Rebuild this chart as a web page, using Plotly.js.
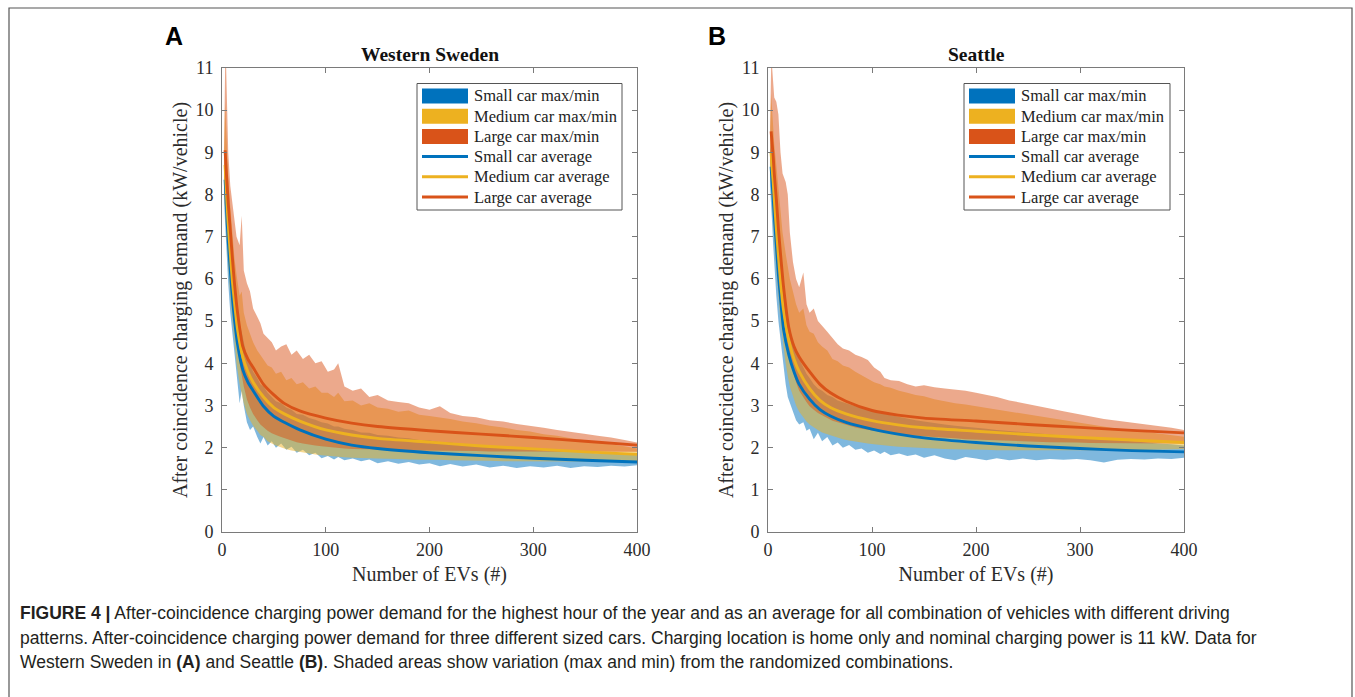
<!DOCTYPE html>
<html><head><meta charset="utf-8">
<script src="https://cdn.plot.ly/plotly-3.0.1.min.js"></script>
<style>html,body{margin:0;padding:0;background:#fff;}#chart{width:1355px;height:697px;}</style>
</head><body><div id="chart"></div>
<script>
// ---------- DATA ----------
const xBand = [2,3,4,5,6,8,10,12,14,17, 19,21,24,27,30,34,37,40,44,48, 52,57,62,67,72,78,84,90,96,102, 108,112,118,126,134,142,150,160,170,180, 190,200,210,220,232,245,258,271,284,297, 310,323,336,349,362,375,388,400];

// Western Sweden (A) bands
const smallMinA = [7.8,7.4,7.0,6.4,5.9,5.2,4.7,4.2,3.8,3.05, 3.35,3.0,2.6,2.42,2.5,2.25,2.1,2.25,2.05,2.15, 2.0,2.1,1.95,2.02,1.88,1.95,1.82,1.88,1.75,1.8, 1.72,1.78,1.7,1.74,1.68,1.72,1.63,1.68,1.62,1.66, 1.6,1.63,1.56,1.61,1.55,1.6,1.53,1.57,1.52,1.56, 1.53,1.57,1.52,1.56,1.54,1.57,1.55,1.58];
const smallMaxA = [8.6,8.8,8.4,8.0,7.6,7.0,6.3,5.9,5.4,4.9, 4.75,4.5,4.15,4.0,3.8,3.65,3.5,3.45,3.3,3.2, 3.1,3.05,2.95,2.9,2.8,2.78,2.7,2.66,2.6,2.57, 2.5,2.5,2.45,2.42,2.36,2.35,2.3,2.28,2.24,2.22, 2.18,2.17,2.13,2.12,2.08,2.06,2.02,2.01,1.98,1.97, 1.94,1.93,1.9,1.89,1.86,1.86,1.83,1.82];
const medMinA = [8.0,7.7,7.3,6.8,6.3,5.6,5.0,4.5,4.0,3.5, 3.3,3.05,2.8,2.65,2.52,2.4,2.3,2.25,2.15,2.1, 2.05,2.0,1.96,1.93,1.9,1.88,1.86,1.84,1.82,1.8, 1.79,1.78,1.77,1.76,1.75,1.75,1.74,1.73,1.73,1.72, 1.72,1.71,1.71,1.7,1.7,1.69,1.69,1.68,1.68,1.68, 1.68,1.67,1.67,1.67,1.67,1.67,1.68,1.68];
const medMaxA = [9.0,10.2,9.6,9.0,8.4,7.7,7.0,6.5,6.1,5.6, 5.7,5.2,4.9,4.7,4.5,4.3,4.2,4.1,3.95,3.9, 3.75,3.8,3.6,3.65,3.5,3.55,3.4,3.45,3.3,3.3, 3.2,3.3,3.1,3.12,3.0,3.05,2.95,2.92,2.85,2.88, 2.78,2.75,2.72,2.68,2.62,2.58,2.52,2.48,2.42,2.38, 2.32,2.28,2.22,2.18,2.12,2.08,2.03,1.98];
const largeMinA = [8.2,8.0,7.6,7.2,6.8,6.1,5.5,5.0,4.6,4.0, 3.7,3.45,3.15,2.95,2.8,2.65,2.55,2.48,2.4,2.34, 2.3,2.25,2.2,2.17,2.13,2.1,2.07,2.05,2.03,2.01, 2.0,1.99,1.98,1.97,1.96,1.96,1.95,1.95,1.94,1.94, 1.93,1.93,1.93,1.92,1.92,1.92,1.91,1.91,1.91,1.9, 1.9,1.9,1.9,1.9,1.9,1.9,1.9,1.9];
const largeMaxA = [9.1,11.0,11.0,10.2,9.0,8.2,7.8,7.3,7.0,6.8, 7.5,6.2,5.9,5.7,5.3,5.1,4.95,4.7,4.6,4.5, 4.3,4.4,4.45,4.2,4.3,4.1,4.2,4.0,4.05,3.8, 3.85,4.0,3.45,3.35,3.4,3.2,3.25,3.12,3.08,3.05, 2.95,2.9,2.98,2.82,2.75,2.72,2.65,2.62,2.56,2.52, 2.47,2.42,2.38,2.33,2.28,2.24,2.18,2.12];

// Seattle (B) bands
const smallMinB = [8.2,7.8,7.3,6.8,6.3,5.6,5.0,4.5,4.1,3.5, 3.2,3.05,2.85,2.65,2.55,2.6,2.4,2.45,2.2,2.35, 2.15,2.25,2.05,2.12,2.0,2.06,1.95,1.98,1.88,1.93, 1.85,1.9,1.82,1.86,1.8,1.84,1.76,1.82,1.74,1.7, 1.78,1.74,1.7,1.75,1.7,1.74,1.7,1.73,1.71,1.73, 1.7,1.65,1.71,1.73,1.72,1.74,1.73,1.76];
const smallMaxB = [9.0,9.3,8.9,8.5,8.1,7.5,6.9,6.3,5.8,5.3, 5.0,4.8,4.5,4.3,4.1,3.9,3.75,3.65,3.5,3.4, 3.35,3.25,3.2,3.12,3.08,3.02,2.98,2.95,2.9,2.86, 2.82,2.8,2.76,2.72,2.68,2.65,2.62,2.58,2.55,2.52, 2.5,2.47,2.45,2.42,2.4,2.37,2.34,2.31,2.28,2.26, 2.23,2.2,2.18,2.15,2.12,2.1,2.08,2.05];
const medMinB = [8.6,8.3,7.9,7.4,6.9,6.2,5.6,5.0,4.6,4.0, 3.7,3.45,3.2,3.0,2.85,2.72,2.62,2.55,2.48,2.42, 2.36,2.32,2.28,2.24,2.2,2.17,2.15,2.12,2.1,2.08, 2.06,2.05,2.04,2.02,2.01,2.0,1.99,1.98,1.97,1.96, 1.96,1.95,1.95,1.94,1.94,1.93,1.93,1.93,1.93,1.93, 1.93,1.94,1.94,1.94,1.95,1.95,1.96,1.97];
const medMaxB = [9.4,10.4,10.0,9.6,9.2,8.7,8.1,7.6,7.1,6.6, 6.3,6.0,5.7,5.4,5.2,5.3,4.9,4.75,4.7,4.5, 4.4,4.3,4.1,4.05,3.95,3.9,3.8,3.72,3.65,3.55, 3.5,3.45,3.42,3.35,3.3,3.25,3.22,3.15,3.1,3.05, 3.02,2.98,2.95,2.9,2.86,2.8,2.75,2.7,2.65,2.6, 2.55,2.5,2.45,2.42,2.38,2.34,2.3,2.26];
const largeMinB = [8.9,8.7,8.3,7.9,7.5,6.9,6.3,5.8,5.3,4.7, 4.4,4.1,3.8,3.55,3.35,3.2,3.08,2.98,2.9,2.82, 2.76,2.7,2.64,2.6,2.55,2.52,2.48,2.45,2.42,2.4, 2.38,2.36,2.34,2.32,2.3,2.28,2.27,2.25,2.23,2.22, 2.2,2.19,2.18,2.17,2.16,2.15,2.14,2.13,2.12,2.12, 2.11,2.11,2.1,2.1,2.1,2.1,2.1,2.1];
const largeMaxB = [9.6,11.0,11.0,10.6,10.3,10.2,9.9,9.0,8.5,8.3, 8.0,7.1,6.4,6.0,5.8,6.15,5.4,5.2,5.3,5.0, 4.9,4.75,4.6,4.45,4.35,4.3,4.2,4.15,4.08,3.9, 3.8,3.65,3.6,3.58,3.5,3.45,3.48,3.43,3.4,3.38, 3.35,3.3,3.25,3.2,3.12,3.06,3.0,2.93,2.86,2.8, 2.74,2.68,2.64,2.6,2.56,2.52,2.47,2.42];

// Averages
const xAvg = [3,4,5,6,8,10,12,15,20,25,30,40,50,60,75,100,125,150,200,250,300,350,400];
const smallAvgA = [8.35,7.85,7.35,6.9,6.2,5.55,5.05,4.45,3.85,3.55,3.35,2.98,2.74,2.6,2.42,2.2,2.06,1.98,1.88,1.81,1.75,1.7,1.66];
const medAvgA   = [8.7,8.2,7.7,7.3,6.6,5.95,5.45,4.8,4.15,3.8,3.55,3.2,2.95,2.8,2.63,2.42,2.3,2.22,2.13,2.04,1.97,1.9,1.84];
const largeAvgA = [9.05,8.6,8.2,7.8,7.15,6.5,5.9,5.2,4.4,4.1,3.9,3.5,3.25,3.05,2.87,2.7,2.58,2.5,2.4,2.32,2.24,2.15,2.06];
const smallAvgB = [8.66,8.25,7.9,7.5,6.8,6.1,5.55,4.8,4.2,3.8,3.5,3.15,2.9,2.75,2.6,2.44,2.32,2.23,2.12,2.04,1.98,1.93,1.9];
const medAvgB   = [9.0,8.6,8.3,7.9,7.2,6.55,5.95,5.25,4.55,4.1,3.8,3.4,3.12,2.95,2.8,2.64,2.54,2.47,2.39,2.31,2.24,2.18,2.12];
const largeAvgB = [9.5,9.2,8.9,8.5,7.9,7.2,6.6,5.8,4.85,4.4,4.15,3.8,3.5,3.3,3.1,2.88,2.77,2.7,2.63,2.55,2.48,2.41,2.35];

// Text
const panelTitles = ["Western Sweden", "Seattle"];
const panelLetters = ["A", "B"];
const legendLabels = ["Small car max/min","Medium car max/min","Large car max/min","Small car average","Medium car average","Large car average"];
const xTickVals = [0,100,200,300,400];
const yTickVals = [0,1,2,3,4,5,6,7,8,9,10,11];
const captionLines = [
  "<b>FIGURE 4 |</b> After-coincidence charging power demand for the highest hour of the year and as an average for all combination of vehicles with different driving",
  "patterns. After-coincidence charging power demand for three different sized cars. Charging location is home only and nominal charging power is 11 kW. Data for",
  "Western Sweden in <b>(A)</b> and Seattle <b>(B)</b>. Shaded areas show variation (max and min) from the randomized combinations."
];

// ---------- STYLE ----------
const colors = ['#0072BD','#EDB120','#D95319'];
const fills = ['rgba(0,114,189,0.5)','rgba(237,177,32,0.5)','rgba(217,83,25,0.5)'];
const serif = 'Liberation Serif, Times New Roman, serif';
const sans = 'Liberation Sans, Arial, sans-serif';
const L = 222, R = 1184, T = 68, B = 532;
const px = v => (v - L) / (R - L);
const py = v => (B - v) / (B - T);

const panels = [
  {xa:'x', ya:'y', bands:[[smallMinA,smallMaxA],[medMinA,medMaxA],[largeMinA,largeMaxA]], avgs:[smallAvgA,medAvgA,largeAvgA]},
  {xa:'x2', ya:'y2', bands:[[smallMinB,smallMaxB],[medMinB,medMaxB],[largeMinB,largeMaxB]], avgs:[smallAvgB,medAvgB,largeAvgB]}
];

const traces = [];
const xRev = xBand.slice().reverse();
panels.forEach(p => {
  p.bands.forEach((b, k) => {
    traces.push({type:'scatter', mode:'lines', xaxis:p.xa, yaxis:p.ya,
      x: xBand.concat(xRev), y: b[1].concat(b[0].slice().reverse()),
      fill:'toself', fillcolor:fills[k], line:{width:0, color:fills[k]},
      hoverinfo:'skip', showlegend:false, name:legendLabels[k]});
  });
  p.avgs.forEach((a, k) => {
    traces.push({type:'scatter', mode:'lines', xaxis:p.xa, yaxis:p.ya,
      x: xAvg, y: a, line:{color:colors[k], width:2.9, shape:'spline', smoothing:0.6},
      showlegend:false, name:legendLabels[k+3]});
  });
});

function axis(extra) {
  return Object.assign({
    showline:true, linecolor:'#7a7a7a', linewidth:1, mirror:'ticks',
    ticks:'inside', ticklen:5, tickcolor:'#7a7a7a', tickwidth:1,
    showgrid:false, zeroline:false, fixedrange:true,
    tickfont:{family:serif, size:18, color:'#2b2b2b'}
  }, extra);
}
const xTitle = {text:'Number of EVs (#)', font:{family:serif, size:20, color:'#2b2b2b'}, standoff:8};
const yTitle = {text:'After coincidence charging demand (kW/vehicle)', font:{family:serif, size:20, color:'#2b2b2b'}, standoff:2};

const layout = {
  width:1355, height:697, paper_bgcolor:'#fff', plot_bgcolor:'#fff',
  margin:{l:L, r:1355-R, t:T, b:697-B, pad:0},
  showlegend:false,
  xaxis: axis({domain:[0, px(637)], range:[0,400], tickvals:xTickVals, anchor:'y', title:xTitle, ticklabelstandoff:1}),
  yaxis: axis({domain:[0,1], range:[0,11], tickvals:yTickVals, anchor:'x', title:yTitle, ticklabelstandoff:4}),
  xaxis2: axis({domain:[px(768), 1], range:[0,400], tickvals:xTickVals, anchor:'y2', title:xTitle, ticklabelstandoff:1}),
  yaxis2: axis({domain:[0,1], range:[0,11], tickvals:yTickVals, anchor:'x2', title:yTitle, ticklabelstandoff:4}),
  shapes:[], annotations:[]
};

// Outer frame
layout.shapes.push({type:'rect', xref:'paper', yref:'paper', x0:px(9), x1:px(1352), y0:py(8), y1:py(705), line:{color:'#555', width:1.2}, fillcolor:'rgba(0,0,0,0)'});

// Panel titles and letters
const titleX = [429.5, 976];
const letterX = [174, 716.5];
panelTitles.forEach((t, i) => {
  layout.annotations.push({xref:'paper', yref:'paper', x:px(titleX[i]), y:py(54), xanchor:'center', yanchor:'middle', showarrow:false,
    text:'<b>'+t+'</b>', font:{family:serif, size:19.5, color:'#111'}});
  layout.annotations.push({xref:'paper', yref:'paper', x:px(letterX[i]), y:py(36), xanchor:'center', yanchor:'middle', showarrow:false,
    text:'<b>'+panelLetters[i]+'</b>', font:{family:sans, size:25, color:'#000'}});
});

// Legends (drawn manually to match the MATLAB legend box)
const legBoxes = [{x0:417, x1:622}, {x0:964, x1:1170}];
legBoxes.forEach(bx => {
  layout.shapes.push({type:'rect', xref:'paper', yref:'paper', x0:px(bx.x0), x1:px(bx.x1), y0:py(83.5), y1:py(210), line:{color:'#555', width:1}, fillcolor:'#fff'});
  legendLabels.forEach((lab, k) => {
    const yc = 96 + k * 20.2;
    const sx0 = bx.x0 + 5, sx1 = bx.x0 + 51;
    if (k < 3) {
      layout.shapes.push({type:'rect', xref:'paper', yref:'paper', x0:px(sx0), x1:px(sx1), y0:py(yc - 7.5), y1:py(yc + 7.5), line:{width:0}, fillcolor:colors[k]});
    } else {
      layout.shapes.push({type:'line', xref:'paper', yref:'paper', x0:px(sx0), x1:px(sx1), y0:py(yc), y1:py(yc), line:{color:colors[k-3], width:3}});
    }
    layout.annotations.push({xref:'paper', yref:'paper', x:px(bx.x0 + 55), y:py(yc), xanchor:'left', yanchor:'middle', showarrow:false,
      text:lab, font:{family:serif, size:16.5, color:'#222'}});
  });
});

// Caption
const capY = [613, 637.5, 662];
captionLines.forEach((c, i) => {
  layout.annotations.push({xref:'paper', yref:'paper', x:px(18), y:py(capY[i]), xanchor:'left', yanchor:'middle', showarrow:false, align:'left',
    text:c, font:{family:sans, size:17.5, color:'#231f20'}});
});

Plotly.newPlot('chart', traces, layout, {staticPlot:true, displayModeBar:false});
</script>
</body></html>
